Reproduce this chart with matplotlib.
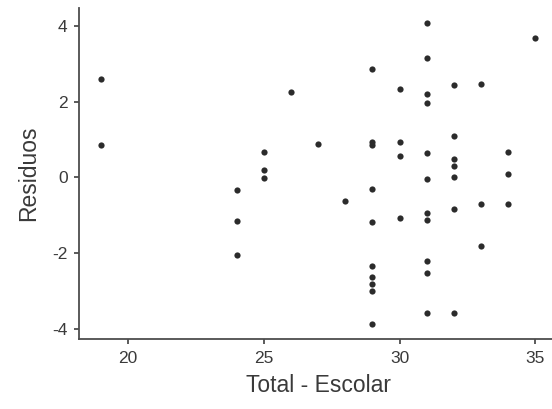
import matplotlib.pyplot as plt

# Total - Escolar vs residuals
x_total = [19, 19,
           24, 24, 24,
           25, 25, 25,
           26, 27, 28,
           29, 29, 29, 29, 29, 29, 29, 29, 29, 29,
           30, 30, 30, 30,
           31, 31, 31, 31, 31, 31, 31, 31, 31, 31, 31,
           32, 32, 32, 32, 32, 32, 32,
           33, 33, 33,
           34, 34, 34,
           35]
residuos = [2.59, 0.87,
            -0.33, -1.15, -2.05,
            0.67, 0.19, -0.02,
            2.26, 0.88, -0.63,
            2.86, 0.94, 0.86, -0.31, -1.18, -2.35, -2.63, -2.82, -3.01, -3.87,
            2.34, 0.95, 0.56, -1.06,
            4.08, 3.17, 2.20, 1.96, 0.64, -0.05, -0.95, -1.13, -2.21, -2.52, -3.59,
            2.45, 1.09, 0.48, 0.30, 0.0, -0.82, -3.57,
            2.46, -0.70, -1.82,
            0.67, 0.08, -0.70,
            3.69]

xticks = [20, 25, 30, 35]
yticks = [-4, -2, 0, 2, 4]

plt.rcParams["font.family"] = ["Liberation Sans", "DejaVu Sans"]

fig = plt.figure(figsize=(5.52, 4.09), dpi=100)
ax = fig.add_axes([0.1437, 0.1711, 0.8654, 0.8093])

ax.scatter(x_total, residuos, s=20, color="#2b2b2b", linewidths=0, zorder=3)

# ggplot-style 5% expansion
xr = max(x_total) - min(x_total)
yr = max(residuos) - min(residuos)
ax.set_xlim(min(x_total) - 0.05 * xr, max(x_total) + 0.05 * xr)
ax.set_ylim(min(residuos) - 0.05 * yr, max(residuos) + 0.05 * yr)

ax.set_xticks(xticks)
ax.set_yticks(yticks)
ax.set_xticklabels([str(t) for t in xticks])
ax.set_yticklabels([str(t) for t in yticks])

for side in ["top", "right"]:
    ax.spines[side].set_visible(False)
for side in ["left", "bottom"]:
    ax.spines[side].set_color("#4d4d4d")
    ax.spines[side].set_linewidth(1.3)

ax.tick_params(axis="both", direction="out", length=3.5, width=1.3,
               color="#4d4d4d", labelcolor="#3a3a3a", labelsize=12.5, pad=5)

ax.set_xlabel("Total - Escolar", fontsize=16.5, color="#3a3a3a", labelpad=6)
ax.set_ylabel("Residuos", fontsize=16.5, color="#3a3a3a", labelpad=9)

fig.savefig("out.png", dpi=100)
